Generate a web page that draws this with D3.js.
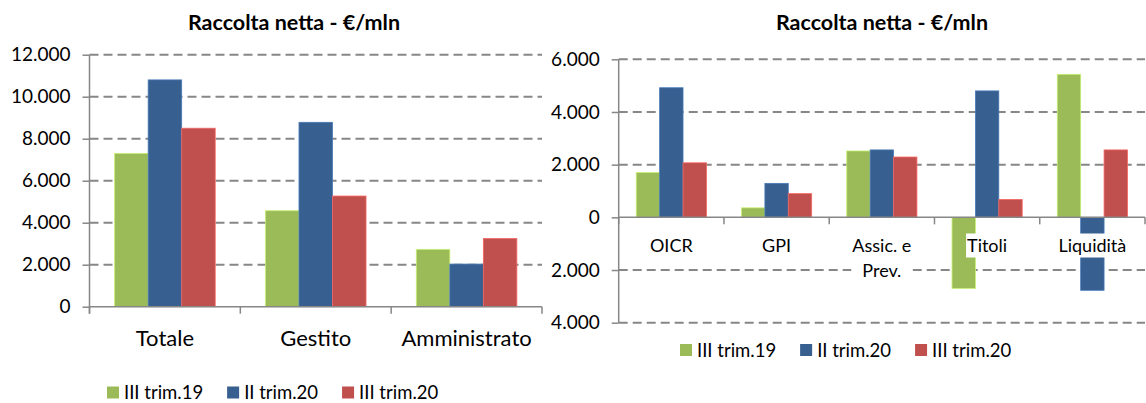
<!DOCTYPE html>
<html>
<head>
<meta charset="utf-8">
<script src="https://cdn.jsdelivr.net/npm/d3@7"></script>
<style>
	body { margin: 0; background: #fff; }
	svg { display: block; font-family: Lato, 'Liberation Sans', sans-serif; }
</style>
</head>
<body>
<div id="chart"></div>
<script>
// data
let seriesNames = ['III trim.19', 'II trim.20', 'III trim.20']

let leftCategories = ['Totale', 'Gestito', 'Amministrato']
let leftTrim19 = [7300, 4570, 2730]
let leftTrimII20 = [10800, 8780, 2030]
let leftTrimIII20 = [8500, 5270, 3250]
let leftTicks = [0, 2000, 4000, 6000, 8000, 10000, 12000]

let rightCategories = ['OICR', 'GPI', 'Assic. e Prev.', 'Titoli', 'Liquidità']
let rightTrim19 = [1700, 360, 2520, -2700, 5430]
let rightTrimII20 = [4920, 1290, 2560, 4800, -2770]
let rightTrimIII20 = [2070, 900, 2290, 680, 2560]
let rightTicks = [-4000, -2000, 0, 2000, 4000, 6000]

let colors = ['#9bbb59', '#375f8f', '#c0504d']
let gridColor = '#878787'

let width = 1146
let height = 403

let it = d3.formatLocale({decimal: ',', thousands: '.', grouping: [3], currency: ['€', '']})
let fmt = it.format(',d')

let svg = d3.select('#chart').append('svg')
	.attr('width', width)
	.attr('height', height)

function drawChart(cfg) {
	let g = svg.append('g')

	let x0 = d3.scaleBand()
		.domain(cfg.categories)
		.range(cfg.xRange)

	let x1 = d3.scaleBand()
		.domain(seriesNames)
		.range([0, x0.bandwidth()])
		.paddingOuter(0.75)

	let y = d3.scaleLinear()
		.domain(cfg.yDomain)
		.range(cfg.yRange)

	let rows = cfg.categories.map((c, i) => ({
		cat: c,
		vals: seriesNames.map((s, j) => ({ s: s, v: cfg.series[j][i], c: colors[j] }))
	}))

	// dashed gridlines
	g.append('g').selectAll('line')
		.data(cfg.ticks.filter(t => t !== 0))
		.enter().append('line')
		.attr('x1', cfg.xRange[0])
		.attr('x2', cfg.xRange[1])
		.attr('y1', d => y(d))
		.attr('y2', d => y(d))
		.attr('stroke', gridColor)
		.attr('stroke-width', 2)
		.attr('stroke-dasharray', '9,5')

	// bars
	g.append('g').selectAll('g')
		.data(rows)
		.enter().append('g')
		.attr('transform', d => `translate(${x0(d.cat)},0)`)
		.selectAll('rect')
		.data(d => d.vals)
		.enter().append('rect')
		.attr('x', d => x1(d.s))
		.attr('width', x1.bandwidth())
		.attr('y', d => y(Math.max(0, d.v)))
		.attr('height', d => Math.abs(y(d.v) - y(0)))
		.attr('fill', d => d.c)
		.attr('stroke', d => d3.color(d.c).brighter(0.7))
		.attr('stroke-width', 0.8)

	// y axis
	let yAxis = d3.axisLeft(y)
		.tickValues(cfg.ticks)
		.tickSize(7)
		.tickPadding(12)
		.tickFormat(d => fmt(Math.abs(d)))

	let ya = g.append('g')
		.attr('transform', `translate(${cfg.xRange[0]},0)`)
		.call(yAxis)
	ya.select('.domain').remove()
	ya.selectAll('line').attr('stroke', gridColor).attr('stroke-width', 1.5)
	ya.selectAll('text')
		.attr('fill', '#000')
		.style('font-size', '19px')
		.style('font-family', 'Lato')
	g.append('line')
		.attr('x1', cfg.xRange[0]).attr('x2', cfg.xRange[0])
		.attr('y1', y(cfg.yDomain[1])).attr('y2', Math.max(y(cfg.yDomain[0]), y(0) + 7))
		.attr('stroke', gridColor).attr('stroke-width', 1.5)

	// category axis at zero
	let y0 = y(0)
	g.append('line')
		.attr('x1', cfg.xRange[0]).attr('x2', cfg.xRange[1])
		.attr('y1', y0).attr('y2', y0)
		.attr('stroke', gridColor).attr('stroke-width', 1.5)
	let bounds = d3.range(cfg.categories.length + 1).map(i => cfg.xRange[0] + i * x0.step())
	g.append('g').selectAll('line')
		.data(bounds)
		.enter().append('line')
		.attr('x1', d => d).attr('x2', d => d)
		.attr('y1', y0).attr('y2', y0 + 7)
		.attr('stroke', gridColor).attr('stroke-width', 1.5)

	// category labels (wrapped, white box behind like Excel)
	let labels = g.append('g')
	cfg.categories.forEach(c => {
		let cx = x0(c) + x0.bandwidth() / 2
		let lg = labels.append('g')
		let box = lg.append('rect').attr('fill', '#fff')
		let t = lg.append('text')
			.attr('text-anchor', 'middle')
			.attr('fill', '#000')
			.style('font-size', cfg.labelSize + 'px')
		let words = c.split(' ')
		let lines = [words[0]]
		words.slice(1).forEach(w => {
			let trial = lines[lines.length - 1] + ' ' + w
			t.text(trial)
			if (t.node().getComputedTextLength() > x0.step() - 4) lines.push(w)
			else lines[lines.length - 1] = trial
		})
		t.text(null)
		lines.forEach((l, i) => {
			t.append('tspan')
				.attr('x', cx)
				.attr('y', cfg.labelY + i * cfg.lineH)
				.text(l)
		})
		if (cfg.labelBox) {
			let bb = t.node().getBBox()
			box.attr('x', bb.x - 1).attr('y', bb.y)
				.attr('width', bb.width + 2).attr('height', bb.height + 2)
		}
	})

	// title
	svg.append('text')
		.attr('x', cfg.titleX)
		.attr('y', 30)
		.attr('text-anchor', 'middle')
		.style('font-size', '21.5px')
		.style('font-weight', 'bold')
		.text('Raccolta netta - €/mln')

	// legend
	let leg = svg.append('g')
		.attr('transform', `translate(${cfg.legendX},${cfg.legendY})`)
	let lx = 0
	seriesNames.forEach((s, i) => {
		leg.append('rect')
			.attr('x', lx).attr('y', -6)
			.attr('width', 12).attr('height', 12)
			.attr('fill', colors[i])
		let tt = leg.append('text')
			.attr('x', lx + 17).attr('y', 6.5)
			.style('font-size', '18.5px')
			.text(s)
		lx += 17 + tt.node().getComputedTextLength() + 24
	})
}

drawChart({
	categories: leftCategories,
	series: [leftTrim19, leftTrimII20, leftTrimIII20],
	ticks: leftTicks,
	xRange: [89.5, 542],
	yDomain: [0, 12000],
	yRange: [306.7, 54.7],
	labelSize: 22,
	labelY: 346,
	lineH: 26,
	labelBox: false,
	titleX: 294,
	legendX: 107,
	legendY: 392.5
})

drawChart({
	categories: rightCategories,
	series: [rightTrim19, rightTrimII20, rightTrimIII20],
	ticks: rightTicks,
	xRange: [618.7, 1145],
	yDomain: [-4000, 6000],
	yRange: [322.7, 59.3],
	labelSize: 18,
	labelY: 251.5,
	lineH: 25,
	labelBox: true,
	titleX: 882,
	legendX: 680,
	legendY: 350
})
</script>
</body>
</html>
